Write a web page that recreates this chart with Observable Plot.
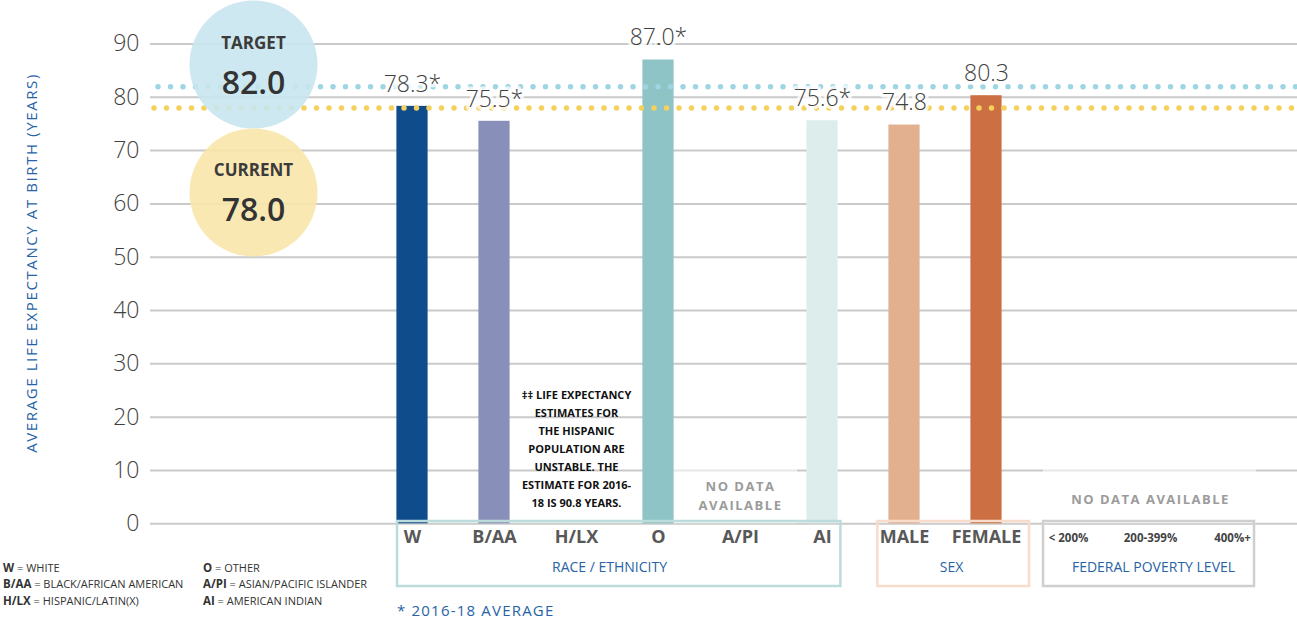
<!DOCTYPE html>
<html>
<head>
<meta charset="utf-8">
<script src="https://cdn.jsdelivr.net/npm/d3@7"></script>
<script src="https://cdn.jsdelivr.net/npm/@observablehq/plot@0.6"></script>
<style>
  body { margin: 0; background: #fff; font-family: "Open Sans", sans-serif; }
  #wrap { position: relative; width: 1297px; height: 621px; overflow: hidden; }
  #wrap svg { position: absolute; left: 0; top: 0; }
  .legend { position: absolute; font-size: 11px; color: #333; line-height: 16.8px; white-space: nowrap; }
  .legend b { font-weight: 700; font-size: 11.5px; }
  #foot { position: absolute; left: 397px; top: 601px; font-size: 15px; line-height: 18px; letter-spacing: 1.2px; color: #2763a6; }
  [aria-description="spaced"] text { letter-spacing: 1.5px; }
  [aria-description="yspaced"] text { letter-spacing: 1.6px; }
</style>
</head>
<body>
<div id="wrap"></div>
<script>
// ---------- data ----------
const categories = ["W", "B/AA", "H/LX", "O", "A/PI", "AI", "MALE", "FEMALE", "< 200%", "200-399%", "400%+"];
const values     = [78.3, 75.5, null, 87.0, null, 75.6, 74.8, 80.3, null, null, null];
const starred    = [true, true, false, true, false, true, false, false, false, false, false];
const yTicks     = [0, 10, 20, 30, 40, 50, 60, 70, 80, 90];
const goalNames  = ["TARGET", "CURRENT"];
const goalValues = [82.0, 78.0];
const groupNames = ["RACE / ETHNICITY", "SEX", "FEDERAL POVERTY LEVEL"];
const groupFirst = ["W", "MALE", "< 200%"];
const groupLast  = ["AI", "FEMALE", "400%+"];
const noteLines  = ["‡‡ LIFE EXPECTANCY", "ESTIMATES FOR", "THE HISPANIC", "POPULATION ARE", "UNSTABLE. THE", "ESTIMATE FOR 2016-", "18 IS 90.8 YEARS."];
const noDataText = "NO DATA AVAILABLE";
const yTitle     = "AVERAGE LIFE EXPECTANCY AT BIRTH (YEARS)";
const footnote   = "* 2016-18 AVERAGE";
const legendAbbr = ["W", "B/AA", "H/LX", "O", "A/PI", "AI"];
const legendFull = ["WHITE", "BLACK/AFRICAN AMERICAN", "HISPANIC/LATIN(X)", "OTHER", "ASIAN/PACIFIC ISLANDER", "AMERICAN INDIAN"];

// ---------- derived tables ----------
const mainCats = categories.slice(0, 8);
const povCats = categories.slice(8);
const bars = categories.map((c, i) => ({cat: c, value: values[i], star: starred[i]})).filter(d => d.value != null);
const groups = groupNames.map((g, i) => ({name: g, first: groupFirst[i], last: groupLast[i]}));
const goals = goalNames.map((n, i) => ({name: n, value: goalValues[i]}));

const blue = "#2763a6";
const boxStyle = {y1: 0, y2: 0, insetTop: -2.3, insetBottom: -62.7, fill: "none", strokeWidth: 2.5};
const anchorTL = {frameAnchor: "top-left", textAnchor: "middle", lineAnchor: "middle", dx: 103};
const anchorB = {frameAnchor: "bottom", textAnchor: "middle", lineAnchor: "middle"};

const chart = Plot.plot({
  width: 1297,
  height: 621,
  marginTop: 43.5,
  marginBottom: 97.7,
  marginLeft: 150,
  marginRight: 0,
  style: {fontFamily: "Open Sans, sans-serif", background: "white"},
  x: {type: "band", domain: categories, range: [367, 1277], padding: 0, axis: null},
  y: {type: "linear", domain: [0, 90], axis: null},
  color: {
    domain: ["W", "B/AA", "O", "AI", "MALE", "FEMALE"],
    range: ["#0e4c8b", "#8890ba", "#8ec4c5", "#dcedec", "#e3b08f", "#cc6f43"]
  },
  marks: [
    Plot.ruleY(yTicks, {stroke: "#cacaca", strokeWidth: 2}),
    // faded background behind "no data" notes
    Plot.rect(["A/PI"], {x1: d => d, x2: d => d, y1: 0, y2: 13, insetLeft: -26, insetRight: -16, fill: "white", fillOpacity: 0.55}),
    Plot.rect([groups[2]], {x1: "first", x2: "last", y1: 0, y2: 13, insetLeft: 16, insetRight: 17, fill: "white", fillOpacity: 0.55}),
    Plot.axisY({ticks: yTicks, tickSize: 0, tickPadding: 11, fontSize: 23, fontWeight: 300, fill: "#3f3f3f", label: null}),
    // bars
    Plot.barY(bars, {x: "cat", y: "value", fill: "cat", insetLeft: 25.4, insetRight: 25.4}),
    // target / current dotted lines
    Plot.ruleY([goals[0].value], {stroke: "#9dd5e2", strokeWidth: 5.5, strokeDasharray: "0 12.5", strokeLinecap: "round", insetLeft: 8}),
    Plot.ruleY([goals[1].value], {stroke: "#f6d05c", strokeWidth: 5.5, strokeDasharray: "0 12.5", strokeLinecap: "round", insetLeft: 4}),
    // value labels
    Plot.text(bars, {x: "cat", y: "value", text: d => d.value.toFixed(1) + (d.star ? "*" : ""), dy: -22, fontSize: 23, fontWeight: 300, fill: "#404040", stroke: "white", strokeWidth: 7, strokeOpacity: 0.75}),
    // goal circles
    Plot.dot([goals[0]], {frameAnchor: "top-left", dx: 103, dy: 20.5, r: 64, fill: "#c8e6ee", fillOpacity: 0.9}),
    Plot.dot([goals[1]], {frameAnchor: "top-left", dx: 103, dy: 148.5, r: 64, fill: "#f9e5ab", fillOpacity: 0.9}),
    Plot.text([goals[0]], {...anchorTL, dy: 0, text: "name", fontSize: 17, fontWeight: 700, fill: "#3b3b3b"}),
    Plot.text([goals[0]], {...anchorTL, dy: 40, text: d => d.value.toFixed(1), fontSize: 32, fontWeight: 600, fill: "#333"}),
    Plot.text([goals[1]], {...anchorTL, dy: 126.5, text: "name", fontSize: 17, fontWeight: 700, fill: "#3b3b3b"}),
    Plot.text([goals[1]], {...anchorTL, dy: 166.5, text: d => d.value.toFixed(1), fontSize: 32, fontWeight: 600, fill: "#333"}),
    // y title
    Plot.text([yTitle], {frameAnchor: "left", textAnchor: "middle", lineAnchor: "middle", rotate: -90, dx: -118, dy: -21, fontSize: 15, fill: blue, ariaDescription: "yspaced"}),
    // notes
    Plot.text([noteLines.join("\n")], {x: () => "H/LX", frameAnchor: "bottom", textAnchor: "middle", lineAnchor: "bottom", dy: -17, lineHeight: 1.63, fontSize: 11, fontWeight: 700, fill: "#111"}),
    Plot.text([noDataText.replace(" AVAILABLE", "\nAVAILABLE")], {x: () => "A/PI", frameAnchor: "bottom", textAnchor: "middle", lineAnchor: "bottom", dy: -14, lineHeight: 1.46, fontSize: 13, fontWeight: 700, fill: "#9b9b9b", ariaDescription: "spaced"}),
    Plot.text([noDataText], {x: () => "200-399%", ...anchorB, dy: -24.3, fontSize: 13, fontWeight: 700, fill: "#9b9b9b", ariaDescription: "spaced"}),
    // group boxes
    Plot.rect([groups[0]], {x1: "first", x2: "last", ...boxStyle, insetLeft: 26, insetRight: 22.6, stroke: "#bcdcdb"}),
    Plot.rect([groups[1]], {x1: "first", x2: "last", ...boxStyle, insetLeft: 14.4, insetRight: -2, stroke: "#f7dccb"}),
    Plot.rect([groups[2]], {x1: "first", x2: "last", ...boxStyle, insetLeft: 16, insetRight: 19, stroke: "#cfcfcf"}),
    // category labels
    Plot.text(mainCats, {x: d => d, ...anchorB, dy: 13.7, fontSize: 18, fontWeight: 700, fill: "#585858"}),
    Plot.text(povCats, {x: d => d, ...anchorB, dy: 14.7, fontSize: 11.5, fontWeight: 700, fill: "#444"}),
    // group titles
    Plot.text([groups[0]], {x: () => "H/LX", ...anchorB, dx: 33, dy: 43.7, text: "name", fontSize: 14, fill: blue}),
    Plot.text([groups[1]], {x: () => "MALE", ...anchorB, dx: 47, dy: 43.7, text: "name", fontSize: 14, fill: blue}),
    Plot.text([groups[2]], {x: () => "200-399%", ...anchorB, dx: 3, dy: 43.7, text: "name", fontSize: 14, fill: blue})
  ]
});

const wrap = document.getElementById("wrap");
wrap.appendChild(chart);

// legend (abbreviations)
const cols = [legendAbbr.slice(0, 3).map((a, i) => [a, legendFull[i]]), legendAbbr.slice(3).map((a, i) => [a, legendFull[i + 3]])];
const colLeft = [3, 203];
cols.forEach((rows, ci) => {
  const div = document.createElement("div");
  div.className = "legend";
  div.style.left = colLeft[ci] + "px";
  div.style.top = "559.5px";
  rows.forEach(([a, f], ri) => {
    if (ri) div.appendChild(document.createElement("br"));
    const b = document.createElement("b");
    b.textContent = a;
    div.appendChild(b);
    div.appendChild(document.createTextNode(" = " + f));
  });
  wrap.appendChild(div);
});
const foot = document.createElement("div");
foot.id = "foot";
foot.textContent = footnote;
wrap.appendChild(foot);
</script>
</body>
</html>
